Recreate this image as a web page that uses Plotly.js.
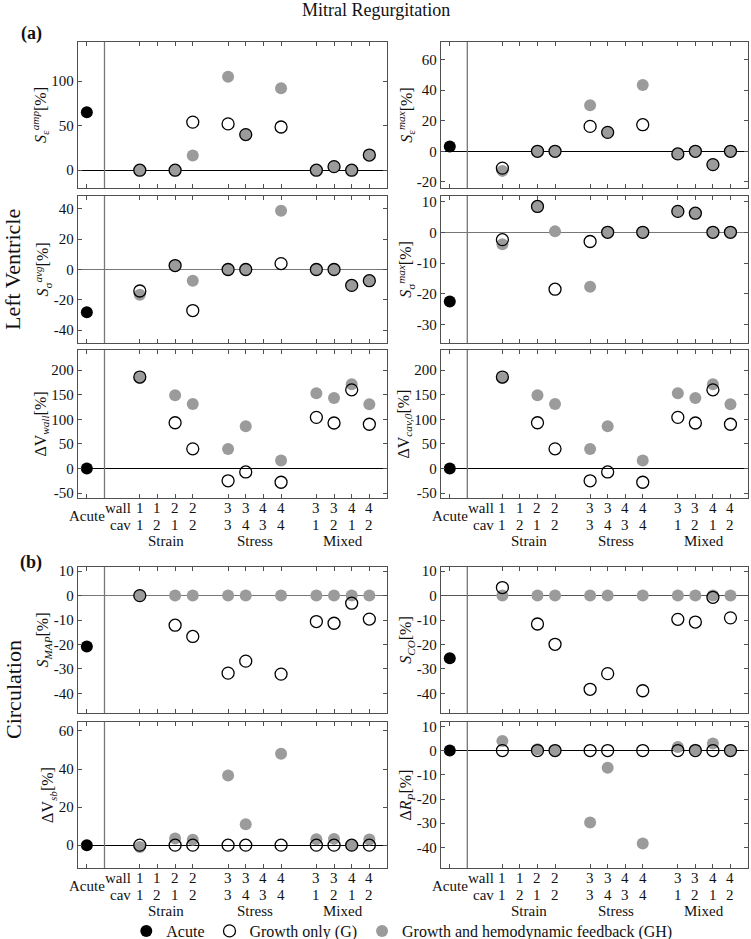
<!DOCTYPE html>
<html>
<head>
<meta charset="utf-8">
<script src="https://cdn.plot.ly/plotly-3.0.1.min.js"></script>
<style>html,body{margin:0;padding:0;background:#fff;}#chart{width:751px;height:939px;}</style>
</head>
<body>
<div id="chart"></div>
<script>
// ---- Data ----
const catWall = [1, 1, 2, 2, 3, 3, 4, 4, 3, 3, 4, 4];
const catCav  = [1, 2, 1, 2, 3, 4, 3, 4, 1, 2, 1, 2];
const groupNames = ["Strain", "Stress", "Mixed"];
const acuteLabel = "Acute";

const panelTitles = [
  "<i>S</i><sub>ε</sub><sup><i>amp</i></sup>[%]",
  "<i>S</i><sub>ε</sub><sup><i>max</i></sup>[%]",
  "<i>S</i><sub>σ</sub><sup><i>avg</i></sup>[%]",
  "<i>S</i><sub>σ</sub><sup><i>max</i></sup>[%]",
  "ΔV<sub><i>wall</i></sub>[%]",
  "ΔV<sub><i>cav,0</i></sub>[%]",
  "<i>S</i><sub><i>MAP</i></sub>[%]",
  "<i>S</i><sub><i>CO</i></sub>[%]",
  "ΔV<sub><i>sb</i></sub>[%]",
  "Δ<i>R</i><sub><i>P</i></sub>[%]"
];

const acuteVals = [65, 3.2, -28.2, -22.5, 0, 0, -20.8, -25.6, 0, 0];

const gSEpsAmp  = [0, null, 0, 54, 52, 40, null, 48.5, 0, 4, 0, 17];
const ghSEpsAmp = [0, null, 0, 16.5, 105, 40, null, 92, 0, 4, 0, 17];

const gSEpsMax  = [-11, null, 0, 0, 16.3, 12.4, null, 17.4, -1.7, 0, -8.7, 0];
const ghSEpsMax = [-12.8, null, 0, 0, 30.2, 12.4, null, 43.3, -1.7, 0, -8.7, 0];

const gSSigAvg  = [-14.2, null, 2.6, -27.1, 0, 0, null, 3.9, 0, 0, -10.5, -7.4];
const ghSSigAvg = [-16.6, null, 2.6, -7.4, 0, 0, null, 38.7, 0, 0, -10.5, -7.4];

const gSSigMax  = [-2.4, null, 8.4, -18.5, -3.0, 0, null, 0, 6.8, 6.2, 0, 0];
const ghSSigMax = [-3.9, null, 8.4, 0.3, -17.7, 0, null, 0, 6.8, 6.2, 0, 0];

const gDVwall  = [186, null, 93, 40, -25, -7, null, -28, 104, 92.5, 160, 90];
const ghDVwall = [184, null, 149, 131, 39.5, 86, null, 16.3, 153, 143.5, 171.4, 130.6];

const gDVcav  = [186, null, 93, 40, -25, -7, null, -28, 104, 92.5, 160, 90];
const ghDVcav = [184, null, 149, 131, 39.5, 86, null, 16.3, 153, 143.5, 171.4, 130.6];

const gSMAP  = [0, null, -12.1, -16.7, -31.7, -26.8, null, -32.1, -10.6, -11.3, -3.1, -9.6];
const ghSMAP = [0, null, 0, 0, 0, 0, null, 0, 0, 0, 0, 0];

const gSCO  = [3.3, null, -11.6, -19.9, -38.3, -31.9, null, -38.9, -9.7, -10.8, -0.7, -9.1];
const ghSCO = [0, null, 0, 0, 0, 0, null, 0, 0, 0, 0, 0];

const gDVsb  = [0, null, 0, 0, 0, 0, null, 0, 0, 0, 0, 0];
const ghDVsb = [-1, null, 3.5, 2.8, 36.6, 11, null, 48, 3.1, 3.3, 0, 3.0];

const gDRp  = [0, null, 0, 0, 0, 0, null, 0, 0, 0, 0, 0];
const ghDRp = [4.0, null, 0.5, 0, -29.7, -7.1, null, -38.4, 1.5, 0.3, 2.9, 0];

const gSeries  = [gSEpsAmp, gSEpsMax, gSSigAvg, gSSigMax, gDVwall, gDVcav, gSMAP, gSCO, gDVsb, gDRp];
const ghSeries = [ghSEpsAmp, ghSEpsMax, ghSSigAvg, ghSSigMax, ghDVwall, ghDVcav, ghSMAP, ghSCO, ghDVsb, ghDRp];

const yTicks = [
  [0, 50, 100],
  [-20, 0, 20, 40, 60],
  [-40, -20, 0, 20, 40],
  [-30, -20, -10, 0, 10],
  [-50, 0, 50, 100, 150, 200],
  [-50, 0, 50, 100, 150, 200],
  [-40, -30, -20, -10, 0, 10],
  [-40, -30, -20, -10, 0, 10],
  [0, 20, 40, 60],
  [-40, -30, -20, -10, 0, 10]
];

// ---- Layout config ----
const yRanges = [[-20, 144], [-24, 71.5], [-48.5, 48.5], [-36, 11.8], [-60, 241], [-60, 241],
                 [-48, 11.7], [-48, 11.7], [-12, 64.7], [-48.5, 11.8]];
const zeroColors = ["#000", "#000", "#777", "#777", "#000", "#000", "#777", "#555", "#000", "#000"];
const W = 751, H = 939;
const rowsPx = [[42, 188], [196, 343], [350, 498], [567, 713], [722, 868]];
const colsPx = [[78, 387], [441, 748]];
const FONT = "Liberation Serif, Times New Roman, serif";
const frame = "#505050";
const TXT = "#111";

const catX = catWall.map((w, i) => i + 3 + Math.floor(i / 4));
const tickX = [0].concat(catX);
const fmt = v => (v < 0 ? "-" + Math.abs(v) : String(v));

const traces = [];
const layout = {
  width: W, height: H,
  margin: {l: 0, r: 0, t: 0, b: 0, autoexpand: false},
  paper_bgcolor: "#fff", plot_bgcolor: "#fff",
  font: {family: FONT, size: 14, color: TXT},
  showlegend: true,
  legend: {orientation: "h", x: 0.535, xanchor: "center", y: 1 - 931 / H, yanchor: "middle",
           font: {family: FONT, size: 16, color: TXT}, itemwidth: 30, tracegroupgap: 0,
           bgcolor: "rgba(0,0,0,0)"},
  annotations: [], shapes: []
};

function note(o) {
  layout.annotations.push(Object.assign({showarrow: false, xanchor: "center", yanchor: "middle"}, o));
}

for (let k = 0; k < 10; k++) {
  const row = Math.floor(k / 2), col = k % 2;
  const n = k + 1;
  const xa = "x" + n, ya = "y" + n;
  const xKey = "xaxis" + (n === 1 ? "" : n), yKey = "yaxis" + (n === 1 ? "" : n);
  layout[xKey] = {
    domain: [colsPx[col][0] / W, colsPx[col][1] / W],
    anchor: ya, range: [-0.5, 17],
    showgrid: false, zeroline: false,
    showline: true, linecolor: frame, linewidth: 1.3, mirror: "allticks",
    ticks: "inside", ticklen: 4, tickcolor: frame, tickvals: tickX,
    showticklabels: false, fixedrange: true
  };
  layout[yKey] = {
    domain: [1 - rowsPx[row][1] / H, 1 - rowsPx[row][0] / H],
    anchor: xa, range: yRanges[k],
    showgrid: false, zeroline: true, zerolinecolor: zeroColors[k], zerolinewidth: 1,
    showline: true, linecolor: frame, linewidth: 1.3, mirror: "allticks",
    ticks: "inside", ticklen: 4, tickcolor: frame,
    tickvals: yTicks[k], ticktext: yTicks[k].map(fmt),
    tickfont: {family: FONT, size: 15, color: TXT},
    title: {text: panelTitles[k], font: {family: FONT, size: 16, color: TXT}, standoff: 0},
    fixedrange: true
  };
  layout.shapes.push({type: "line", xref: xa, yref: ya + " domain", x0: 1, x1: 1, y0: 0, y1: 1,
                      line: {color: "#777", width: 1.3}});

  const show = k === 0;
  traces.push({
    type: "scatter", mode: "markers", xaxis: xa, yaxis: ya,
    x: catX, y: ghSeries[k], name: "Growth and hemodynamic feedback (GH)",
    legendrank: 3, showlegend: show, cliponaxis: false,
    marker: {size: 12, color: "#9b9b9b", line: {width: 0}}
  });
  traces.push({
    type: "scatter", mode: "markers", xaxis: xa, yaxis: ya,
    x: catX, y: gSeries[k], name: "Growth only (G)",
    legendrank: 2, showlegend: show, cliponaxis: false,
    marker: {size: 12, color: "rgba(255,255,255,0)", line: {width: 1.3, color: "#000"}}
  });
  traces.push({
    type: "scatter", mode: "markers", xaxis: xa, yaxis: ya,
    x: [0], y: [acuteVals[k]], name: acuteLabel,
    legendrank: 1, showlegend: show, cliponaxis: false,
    marker: {size: 12, color: "#000", line: {width: 0}}
  });

  if (row === 2 || row === 4) {
    const bot = rowsPx[row][1];
    const yWall = 1 - (bot + 10) / H, yCav = 1 - (bot + 27) / H, yAc = 1 - (bot + 18) / H, yGrp = 1 - (bot + 43) / H;
    const fnt = {family: FONT, size: 15, color: TXT};
    catX.forEach((x, i) => {
      note({xref: xa, yref: "paper", x: x, y: yWall, text: String(catWall[i]), font: fnt});
      note({xref: xa, yref: "paper", x: x, y: yCav, text: String(catCav[i]), font: fnt});
    });
    note({xref: xa, yref: "paper", x: 2.62, y: yWall, xanchor: "right", text: "wall", font: fnt});
    note({xref: xa, yref: "paper", x: 2.62, y: yCav, xanchor: "right", text: "cav", font: fnt});
    note({xref: xa, yref: "paper", x: 0, y: yAc, text: acuteLabel, font: fnt});
    groupNames.forEach((g, j) => {
      const xs = catX.slice(j * 4, j * 4 + 4);
      note({xref: xa, yref: "paper", x: (xs[0] + xs[3]) / 2, y: yGrp, text: g, font: fnt});
    });
  }
}

note({xref: "paper", yref: "paper", x: 0.5, y: 1 - 10 / H, text: "Mitral Regurgitation",
  font: {family: FONT, size: 18, color: TXT}});
note({xref: "paper", yref: "paper", x: 31 / W, y: 1 - 34 / H, text: "<b>(a)</b>",
  font: {family: FONT, size: 18, color: TXT}});
note({xref: "paper", yref: "paper", x: 31 / W, y: 1 - 562 / H, text: "<b>(b)</b>",
  font: {family: FONT, size: 18, color: TXT}});
note({xref: "paper", yref: "paper", x: 13 / W, y: 1 - 270 / H, text: "Left Ventricle",
  textangle: -90, font: {family: FONT, size: 22, color: TXT}});
note({xref: "paper", yref: "paper", x: 13 / W, y: 1 - 690 / H, text: "Circulation",
  textangle: -90, font: {family: FONT, size: 22, color: TXT}});

Plotly.newPlot("chart", traces, layout, {staticPlot: true, displayModeBar: false});
</script>
</body>
</html>
